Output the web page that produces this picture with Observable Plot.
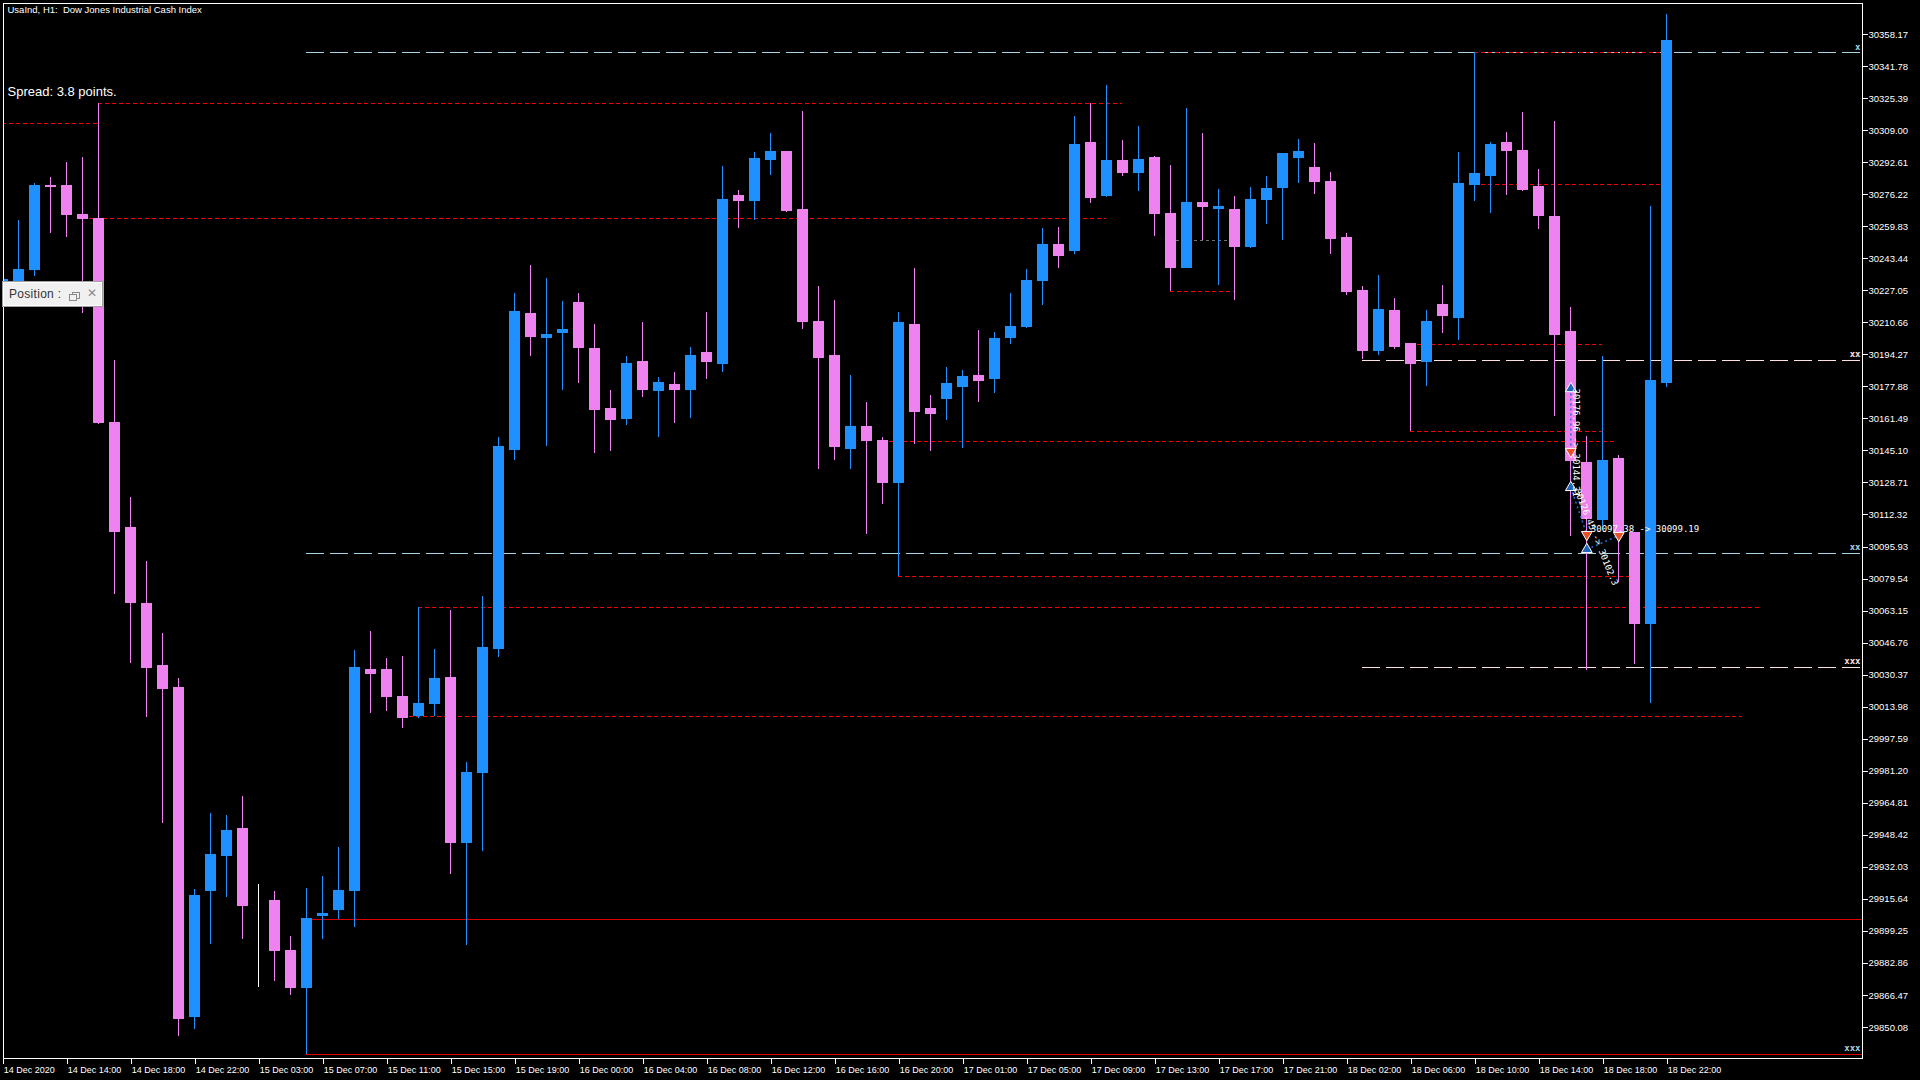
<!DOCTYPE html>
<html><head><meta charset="utf-8">
<script src="https://cdn.jsdelivr.net/npm/d3@7"></script>
<script src="https://cdn.jsdelivr.net/npm/@observablehq/plot@0.6"></script>
<style>
html,body{margin:0;padding:0;background:#000;}
#wrap{position:relative;width:1920px;height:1080px;overflow:hidden;background:#000;}
#wrap svg{display:block;}
#pos{position:absolute;left:3px;top:282px;width:99px;height:24px;box-sizing:border-box;background:#f0f0f0;border:1px solid #fff;box-shadow:0 0 0 1px #a0a0a0;font:12px "Liberation Sans",Arial,sans-serif;color:#333;}
#pos .t{position:absolute;left:5px;top:4px;letter-spacing:0.3px;}
#pos .i1{position:absolute;left:68px;top:9px;width:6px;height:5px;border:1px solid #8a8a8a;background:#f0f0f0;}
#pos .i2{position:absolute;left:65px;top:11px;width:6px;height:5px;border:1px solid #8a8a8a;background:#f0f0f0;}
#pos .x{position:absolute;left:83px;top:3px;color:#8a8a8a;font:bold 12px "DejaVu Sans",sans-serif;}
</style></head><body>
<div id="wrap"><div id="pos"><span class="t">Position :</span><span class="i1"></span><span class="i2"></span><span class="x">✕</span></div></div>
<script>
// ---- candle data (H1 bars, index 0 = 14 Dec 10:00) ----
const opens = [30231.5,30232.1,30237.7,30280.8,30280.8,30265.8,30263.8,30159.6,30105.7,30066.8,
30034.8,30023.7,29855.4,29920.1,29937.7,29951.5,29915.2,29914.6,29889.4,29870.1,
29907.0,29910.3,29920.1,30032.8,30032.8,30019.1,30009.3,30015.5,30028.9,29944.3,
29980.2,30043.6,30145.6,30215.2,30203.1,30205.3,30221.0,30197.2,30166.5,30161.6,
30190.6,30176.0,30178.9,30176.3,30195.2,30189.7,30275.6,30273.0,30294.2,30297.8,
30268.4,30211.2,30193.6,30146.2,30157.3,30150.1,30128.6,30209.6,30166.5,30171.7,
30177.9,30183.5,30181.8,30203.1,30208.6,30232.1,30250.4,30247.5,30302.4,30275.6,
30293.2,30287.4,30295.2,30266.1,30238.7,30272.0,30268.7,30268.4,30249.5,30273.3,
30279.8,30295.2,30290.0,30282.8,30254.0,30226.9,30196.2,30216.8,30199.8,30190.6,
30219.7,30213.2,30281.1,30286.0,30302.7,30298.8,30280.2,30264.8,30206.0,30139.0,
30109.9,30141.0,30103.1,30056.3,30179.8];
const highs = [30234.0,30262.9,30281.8,30285.1,30292.6,30295.2,30322.7,30191.3,30121.4,30088.7,
30051.8,30028.9,29920.7,29959.6,29958.6,29968.5,29923.4,29919.8,29896.6,29921.1,
29927.3,29942.3,30042.9,30052.8,30039.0,30040.0,30064.8,30043.6,30063.2,29985.8,
30070.7,30152.1,30225.9,30240.0,30233.1,30221.4,30225.9,30209.6,30176.0,30193.6,
30210.6,30182.5,30185.1,30197.8,30216.1,30290.6,30278.2,30297.8,30307.6,30298.2,
30318.7,30229.2,30222.3,30183.5,30169.7,30152.1,30215.8,30238.3,30173.3,30188.0,
30186.4,30206.7,30205.7,30225.6,30237.7,30258.9,30259.3,30316.1,30322.7,30332.1,
30304.0,30311.2,30295.6,30291.0,30320.4,30307.6,30278.9,30275.3,30279.8,30285.4,
30297.0,30304.3,30302.4,30287.4,30256.3,30229.2,30235.1,30223.0,30200.0,30217.1,
30229.5,30297.8,30348.8,30303.0,30307.9,30318.1,30289.0,30313.5,30218.4,30152.7,
30193.6,30142.9,30103.3,30270.0,30368.4];
const lows = [30229.0,30229.9,30234.4,30256.6,30254.4,30215.5,30158.6,30071.7,30036.1,30008.6,
29954.4,29845.3,29848.9,29892.3,29916.8,29894.9,29870.7,29873.7,29866.2,29836.1,
29894.9,29905.1,29901.1,30010.6,30011.6,30003.1,30008.3,30009.3,29928.3,29892.0,
29940.0,30039.4,30140.3,30193.6,30147.5,30176.0,30179.5,30143.9,30144.6,30158.0,
30172.3,30152.1,30159.0,30161.9,30181.5,30185.4,30258.9,30263.2,30286.1,30267.1,
30207.0,30135.7,30140.0,30135.7,30102.1,30117.8,30080.9,30148.5,30144.9,30160.6,
30146.5,30169.7,30174.6,30199.8,30207.6,30219.7,30238.3,30245.5,30271.7,30274.6,
30285.4,30277.9,30254.7,30226.6,30238.4,30253.0,30229.5,30222.3,30248.5,30260.9,
30252.7,30281.8,30276.2,30245.5,30224.6,30191.9,30193.9,30196.8,30155.0,30178.2,
30205.0,30201.7,30272.7,30266.4,30275.6,30277.9,30258.3,30162.5,30101.1,30032.5,
30104.4,30077.6,30035.7,30015.8,30177.6];
const closes = [30232.8,30237.7,30280.8,30280.2,30265.8,30263.8,30159.6,30103.7,30067.5,30034.1,
30023.3,29854.4,29917.5,29938.1,29950.5,29912.3,29915.2,29889.1,29870.1,29905.4,
29908.3,29920.1,30033.8,30031.2,30019.4,30008.3,30015.8,30028.3,29944.3,29980.2,
30044.2,30147.2,30216.1,30203.4,30204.4,30207.0,30197.8,30166.1,30160.9,30189.7,
30176.3,30179.9,30176.3,30193.6,30190.6,30273.6,30273.0,30294.6,30297.8,30268.1,
30210.9,30192.6,30147.2,30157.3,30150.1,30128.6,30210.6,30165.2,30163.9,30179.5,
30183.1,30180.9,30202.4,30208.6,30232.1,30250.4,30244.9,30301.7,30274.6,30293.2,
30287.4,30294.2,30266.1,30238.7,30272.0,30270.0,30270.0,30249.5,30273.6,30279.2,
30296.8,30297.8,30282.8,30253.7,30226.6,30196.2,30217.1,30198.1,30189.7,30211.2,
30214.2,30281.8,30287.0,30301.7,30298.8,30278.8,30265.5,30204.4,30139.7,30110.3,
30140.0,30103.7,30056.3,30180.8,30354.7];

// ---- axis ticks ----
const yTicks = [30358.17,30341.78,30325.39,30309.00,30292.61,30276.22,30259.83,30243.44,30227.05,30210.66,
30194.27,30177.88,30161.49,30145.10,30128.71,30112.32,30095.93,30079.54,30063.15,30046.76,30030.37,
30013.98,29997.59,29981.20,29964.81,29948.42,29932.03,29915.64,29899.25,29882.86,29866.47,29850.08];
const xTickIdx = [0,4,8,12,16,20,24,28,32,36,40,44,48,52,56,60,64,68,72,76,80,84,88,92,96,100,104];
const xTickLabels = ["14 Dec 2020","14 Dec 14:00","14 Dec 18:00","14 Dec 22:00","15 Dec 03:00","15 Dec 07:00",
"15 Dec 11:00","15 Dec 15:00","15 Dec 19:00","16 Dec 00:00","16 Dec 04:00","16 Dec 08:00","16 Dec 12:00",
"16 Dec 16:00","16 Dec 20:00","17 Dec 01:00","17 Dec 05:00","17 Dec 09:00","17 Dec 13:00","17 Dec 17:00",
"17 Dec 21:00","18 Dec 02:00","18 Dec 06:00","18 Dec 10:00","18 Dec 14:00","18 Dec 18:00","18 Dec 22:00"];

// ---- horizontal levels (price, from bar, to bar) ----
const blueLevelPrice = [30348.8, 30092.6];
const blueLevelFrom = [19, 19];
const pinkLevelPrice = [30191.6, 30034.4];
const pinkLevelFrom = [85, 85];
const redDashPrice = [30322.7,30312.8,30263.8,30064.8,30150.1,30080.9,30226.6,30348.8,30281.5,30199.8,30155.0,30009.0];
const redDashFrom  = [6,0,5,26,55,56,73,92,92,88,88,25];
const redDashTo    = [70,6,69,109.8,100.9,101.9,77,104,104,100,100,108.7];
const redSolidPrice = [29905.4, 29836.5];
const redSolidFrom = [19, 19];
const grayDashPrice = [30253.0];
const grayDashFrom = [73];
const grayDashTo = [77];
const levelTagText = ["x","xx","xx","xxx","xxx"];
const levelTagPrice = [30348.8,30191.6,30092.6,30034.4,29836.5];
const levelTagColor = ["#a8d4e6","#ffe0e0","#a8d4e6","#ffe0e0","#a8d4e6"];

// ---- trades ----
const tradeEntryK = [98, 98, 99];
const tradeEntryP = [30177.0, 30126.4, 30094.7];
const tradeExitK = [98, 99, 101];
const tradeExitP = [30144.8, 30102.3, 30101.8];
const tradeText = ["30176.96 -> 30144.31", "30126.45 -> 30102.3", "30097.38 -> 30099.19"];
const tradeRotate = [90, 68, 0];

const titleText = "UsaInd, H1:\u00a0 Dow Jones Industrial Cash Index";
const spreadText = "Spread: 3.8 points.";

// ---- build tables ----
const xStart = 0.042, xEnd = 116.23;
const candles = opens.map((o,i)=>({k:i,o,h:highs[i],l:lows[i],c:closes[i]}));
const colorOf = d => d.c > d.o ? "#1e90ff" : d.c < d.o ? "#ee82ee" : "#ffffff";
const mk = (P,F,T) => P.map((p,i)=>({p, a:F[i], b: T ? T[i] : xEnd}));
const blueLv = mk(blueLevelPrice, blueLevelFrom);
const pinkLv = mk(pinkLevelPrice, pinkLevelFrom);
const redLv = mk(redDashPrice, redDashFrom, redDashTo);
const redSolid = mk(redSolidPrice, redSolidFrom);
const grayLv = mk(grayDashPrice, grayDashFrom, grayDashTo);
const tags = levelTagText.map((t,i)=>({t, p:levelTagPrice[i], c:levelTagColor[i]}));
const trades = tradeEntryK.map((k,i)=>({k1:k,p1:tradeEntryP[i],k2:tradeExitK[i],p2:tradeExitP[i],t:tradeText[i],r:tradeRotate[i]}));
const xLabel = new Map(xTickIdx.map((k,i)=>[k, xTickLabels[i]]));

const font = "Liberation Sans, Arial, sans-serif";
const chart = Plot.plot({
  width: 1920, height: 1080,
  marginTop: 3, marginBottom: 22, marginLeft: 3, marginRight: 58,
  style: {background: "#000", color: "#fff", fontFamily: font},
  x: {type: "linear", domain: [xStart, xEnd], axis: null},
  y: {type: "linear", domain: [29834.22, 30374.03], axis: null},
  color: {type: "identity"},
  marks: [
    Plot.ruleY(redSolid, {y: "p", x1: "a", x2: "b", stroke: "#e00000", strokeWidth: 1, shapeRendering: "crispEdges"}),
    Plot.ruleY(blueLv, {y: "p", x1: "a", x2: "b", stroke: "#a8d4e6", strokeWidth: 1, strokeDasharray: "18,6", shapeRendering: "crispEdges"}),
    Plot.ruleY(pinkLv, {y: "p", x1: "a", x2: "b", stroke: "#ffe0e0", strokeWidth: 1, strokeDasharray: "18,6", shapeRendering: "crispEdges"}),
    Plot.ruleY(grayLv, {y: "p", x1: "a", x2: "b", stroke: "#707070", strokeWidth: 1, strokeDasharray: "3,3", shapeRendering: "crispEdges"}),
    Plot.ruleY(redLv, {y: "p", x1: "a", x2: "b", stroke: "#ff0000", strokeWidth: 1, strokeDasharray: "4,3", shapeRendering: "crispEdges", clip: true}),
    Plot.ruleX(candles, {x: "k", y1: "l", y2: "h", stroke: colorOf, strokeWidth: 1, shapeRendering: "crispEdges", clip: true}),
    Plot.rect(candles, {x1: d => d.k - 0.3125, x2: d => d.k + 0.3125, y1: d => Math.min(d.o, d.c), y2: d => Math.max(d.o, d.c), fill: colorOf, stroke: colorOf, strokeWidth: 1, shapeRendering: "crispEdges", clip: true}),
    Plot.text(tags, {y: "p", text: "t", fill: "c", frameAnchor: "right", textAnchor: "end", dx: -2, dy: -6, fontSize: 9, fontWeight: "bold", fontFamily: "DejaVu Sans Mono, monospace"}),
    Plot.link(trades, {x1: "k1", y1: "p1", x2: "k2", y2: "p2", stroke: "#2a6fd0", strokeWidth: 1.5, strokeDasharray: "2,3"}),
    Plot.dot(trades, {x: "k1", y: "p1", symbol: "triangle", r: 4, fill: "#1f64b8", stroke: "#fff", strokeWidth: 1}),
    Plot.dot(trades, {x: "k2", y: "p2", symbol: "triangle", rotate: 180, r: 4, fill: "#e8502a", stroke: "#fff", strokeWidth: 1}),
    Plot.text(trades.filter(d => d.r === 90), {x: "k1", y: "p1", text: "t", rotate: 90, textAnchor: "start", dx: 5, dy: 0, fill: "#fff", fontSize: 9, fontFamily: "DejaVu Sans Mono, monospace"}),
    Plot.text(trades.filter(d => d.r === 68), {x: "k1", y: "p1", text: "t", rotate: 68, textAnchor: "start", dx: 6, dy: 2, fill: "#fff", fontSize: 9, fontFamily: "DejaVu Sans Mono, monospace"}),
    Plot.text(trades.filter(d => d.r === 0), {x: "k1", y: "p2", text: "t", textAnchor: "start", dx: 4, dy: -6, fill: "#fff", fontSize: 9, fontFamily: "DejaVu Sans Mono, monospace"}),
    Plot.text([titleText], {text: d => d, frameAnchor: "top-left", textAnchor: "start", lineAnchor: "middle", dx: 4, dy: 6.5, fill: "#fff", fontSize: 9.5}),
    Plot.text([spreadText], {text: d => d, frameAnchor: "top-left", textAnchor: "start", lineAnchor: "middle", dx: 4, dy: 88, fill: "#fff", fontSize: 13}),
    Plot.frame({stroke: "#fff", strokeWidth: 1, shapeRendering: "crispEdges"}),
    Plot.axisY(yTicks, {anchor: "right", tickSize: 5, tickPadding: 1, tickFormat: d => d.toFixed(2), fontSize: 9.5, fill: "#fff", stroke: "#fff", shapeRendering: "crispEdges"}),
    Plot.axisX(xTickIdx, {anchor: "bottom", tickSize: 6, tickPadding: 2, tickFormat: d => xLabel.get(d), textAnchor: "start", dx: 1, fontSize: 9, fill: "#fff", stroke: "#fff", shapeRendering: "crispEdges"})
  ]
});
document.getElementById("wrap").prepend(chart);
</script>
</body></html>
